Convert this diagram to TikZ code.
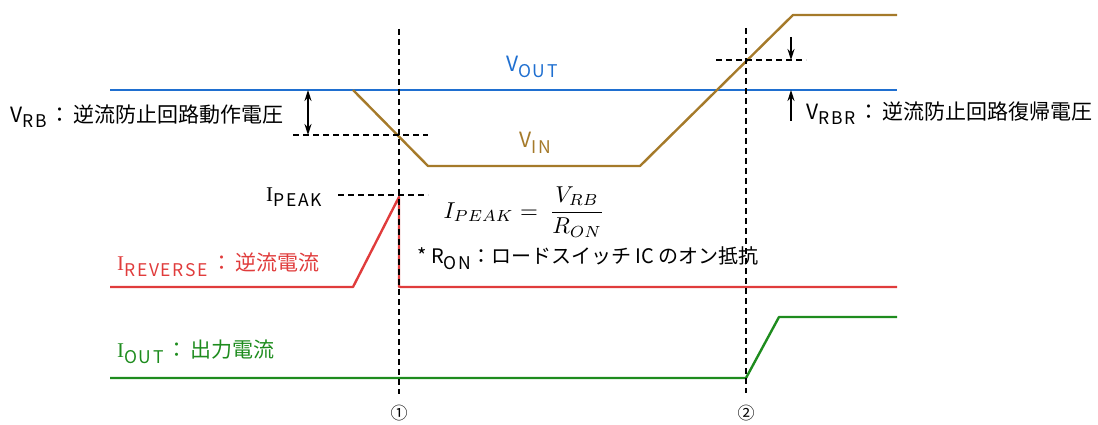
\documentclass[tikz,border=0pt]{standalone}
\usepackage{fontspec}
\setmainfont{Noto Sans CJK JP}
\newfontfamily\subfont{Noto Sans CJK JP}[LetterSpace=10]
\newfontfamily\serifI{Liberation Serif}
\usetikzlibrary{arrows.meta}
\definecolor{cblue}{HTML}{1F6FD0}
\definecolor{cbrown}{HTML}{A57A2A}
\definecolor{cred}{HTML}{E03C3C}
\definecolor{cgreen}{HTML}{1E8C1E}
\newcommand{\lsub}[1]{\raisebox{-5.5pt}{\subfont\fontsize{17.5}{17.5}\selectfont #1}}
\newcommand{\jcolon}{\kern3pt：\kern3pt}
\begin{document}
\begin{tikzpicture}[x=1pt,y=-1pt,
  sig/.style={line width=2.4pt,line join=round},
  guide/.style={line width=1.8pt,dash pattern=on 6pt off 4pt},
  dim/.style={line width=1.6pt,-{Stealth[length=11pt,width=7pt]}},
  lbl/.style={inner sep=0pt,font=\fontsize{21}{24}\selectfont}]
\useasboundingbox (0,0) rectangle (1098,425);
% coordinates
\coordinate (vo1) at (110,90); \coordinate (vo2) at (897,90);
\coordinate (vi1) at (353,90); \coordinate (vi2) at (428,166);
\coordinate (vi3) at (640,166); \coordinate (vi4) at (793,15);
\coordinate (vi5) at (897,15);
\coordinate (r1) at (110,287); \coordinate (r2) at (353,287);
\coordinate (r3) at (399,197); \coordinate (r4) at (399,287);
\coordinate (r5) at (897,287);
\coordinate (g1) at (110,378); \coordinate (g2) at (746,378);
\coordinate (g3) at (779,317); \coordinate (g4) at (897,317);
\coordinate (d1t) at (399,29); \coordinate (d1b) at (399,394);
\coordinate (d2t) at (746,28); \coordinate (d2b) at (746,393);
\coordinate (h1a) at (293,135); \coordinate (h1b) at (428,135);
\coordinate (h2a) at (716,60); \coordinate (h2b) at (806,60);
\coordinate (hpa) at (338,195); \coordinate (hpb) at (428,195);
\coordinate (arb1) at (308,90); \coordinate (arb2) at (308,135);
\coordinate (arr1) at (791,37); \coordinate (arr2) at (791,60);
\coordinate (arr3) at (791,121); \coordinate (arr4) at (791,90);
% signals
\draw[sig,cblue] (vo1) -- (vo2);
\draw[sig,cbrown] (vi1) -- (vi2) -- (vi3) -- (vi4) -- (vi5);
\draw[sig,cred] (r1) -- (r2) -- (r3) -- (r4) -- (r5);
\draw[sig,cgreen] (g1) -- (g2) -- (g3) -- (g4);
% guides
\draw[guide] (d1t) -- (d1b);
\draw[guide] (d2t) -- (d2b);
\draw[guide] (h1a) -- (h1b);
\draw[guide] (h2a) -- (h2b);
\draw[guide] (hpa) -- (hpb);
% dimension arrows
\draw[line width=1.6pt,{Stealth[length=11pt,width=7pt]}-{Stealth[length=11pt,width=7pt]}] (arb1) -- (arb2);
\draw[dim] (arr1) -- (arr2);
\draw[dim] (arr3) -- (arr4);
% labels
\node[lbl,text=cblue] (tvout) at (532,67) {V\lsub{OUT}};
\node[lbl,text=cbrown] (tvin) at (535,143) {V\lsub{IN}};
\node[lbl,anchor=west] (tvrb) at (10,116) {V\lsub{RB}\jcolon 逆流防止回路動作電圧};
\node[lbl,anchor=west] (tvrbr) at (806,113) {V\lsub{RBR}\jcolon 逆流防止回路復帰電圧};
\node[lbl,anchor=east] (tipk) at (322,197) {{\serifI I}\lsub{PEAK}};
\node[lbl,anchor=west,text=cred] (tirev) at (117,265) {{\serifI I}\lsub{REVERSE}\jcolon 逆流電流};
\node[lbl,anchor=west,text=cgreen] (tiout) at (117,352) {{\serifI I}\lsub{OUT}\jcolon 出力電流};
\node[inner sep=0pt,scale=2.3] (formula) at (524,212) {$\displaystyle I_{PEAK}=\ \frac{V_{RB}}{R_{ON}}$};
\node[lbl,anchor=west,font=\fontsize{20}{23}\selectfont] (note) at (417,258) {* R\lsub{ON}：ロードスイッチ IC のオン抵抗};
\node[lbl] (n1) at (399,413) {\fontsize{17}{17}\selectfont ①};
\node[lbl] (n2) at (746,413) {\fontsize{17}{17}\selectfont ②};
\end{tikzpicture}
\end{document}
